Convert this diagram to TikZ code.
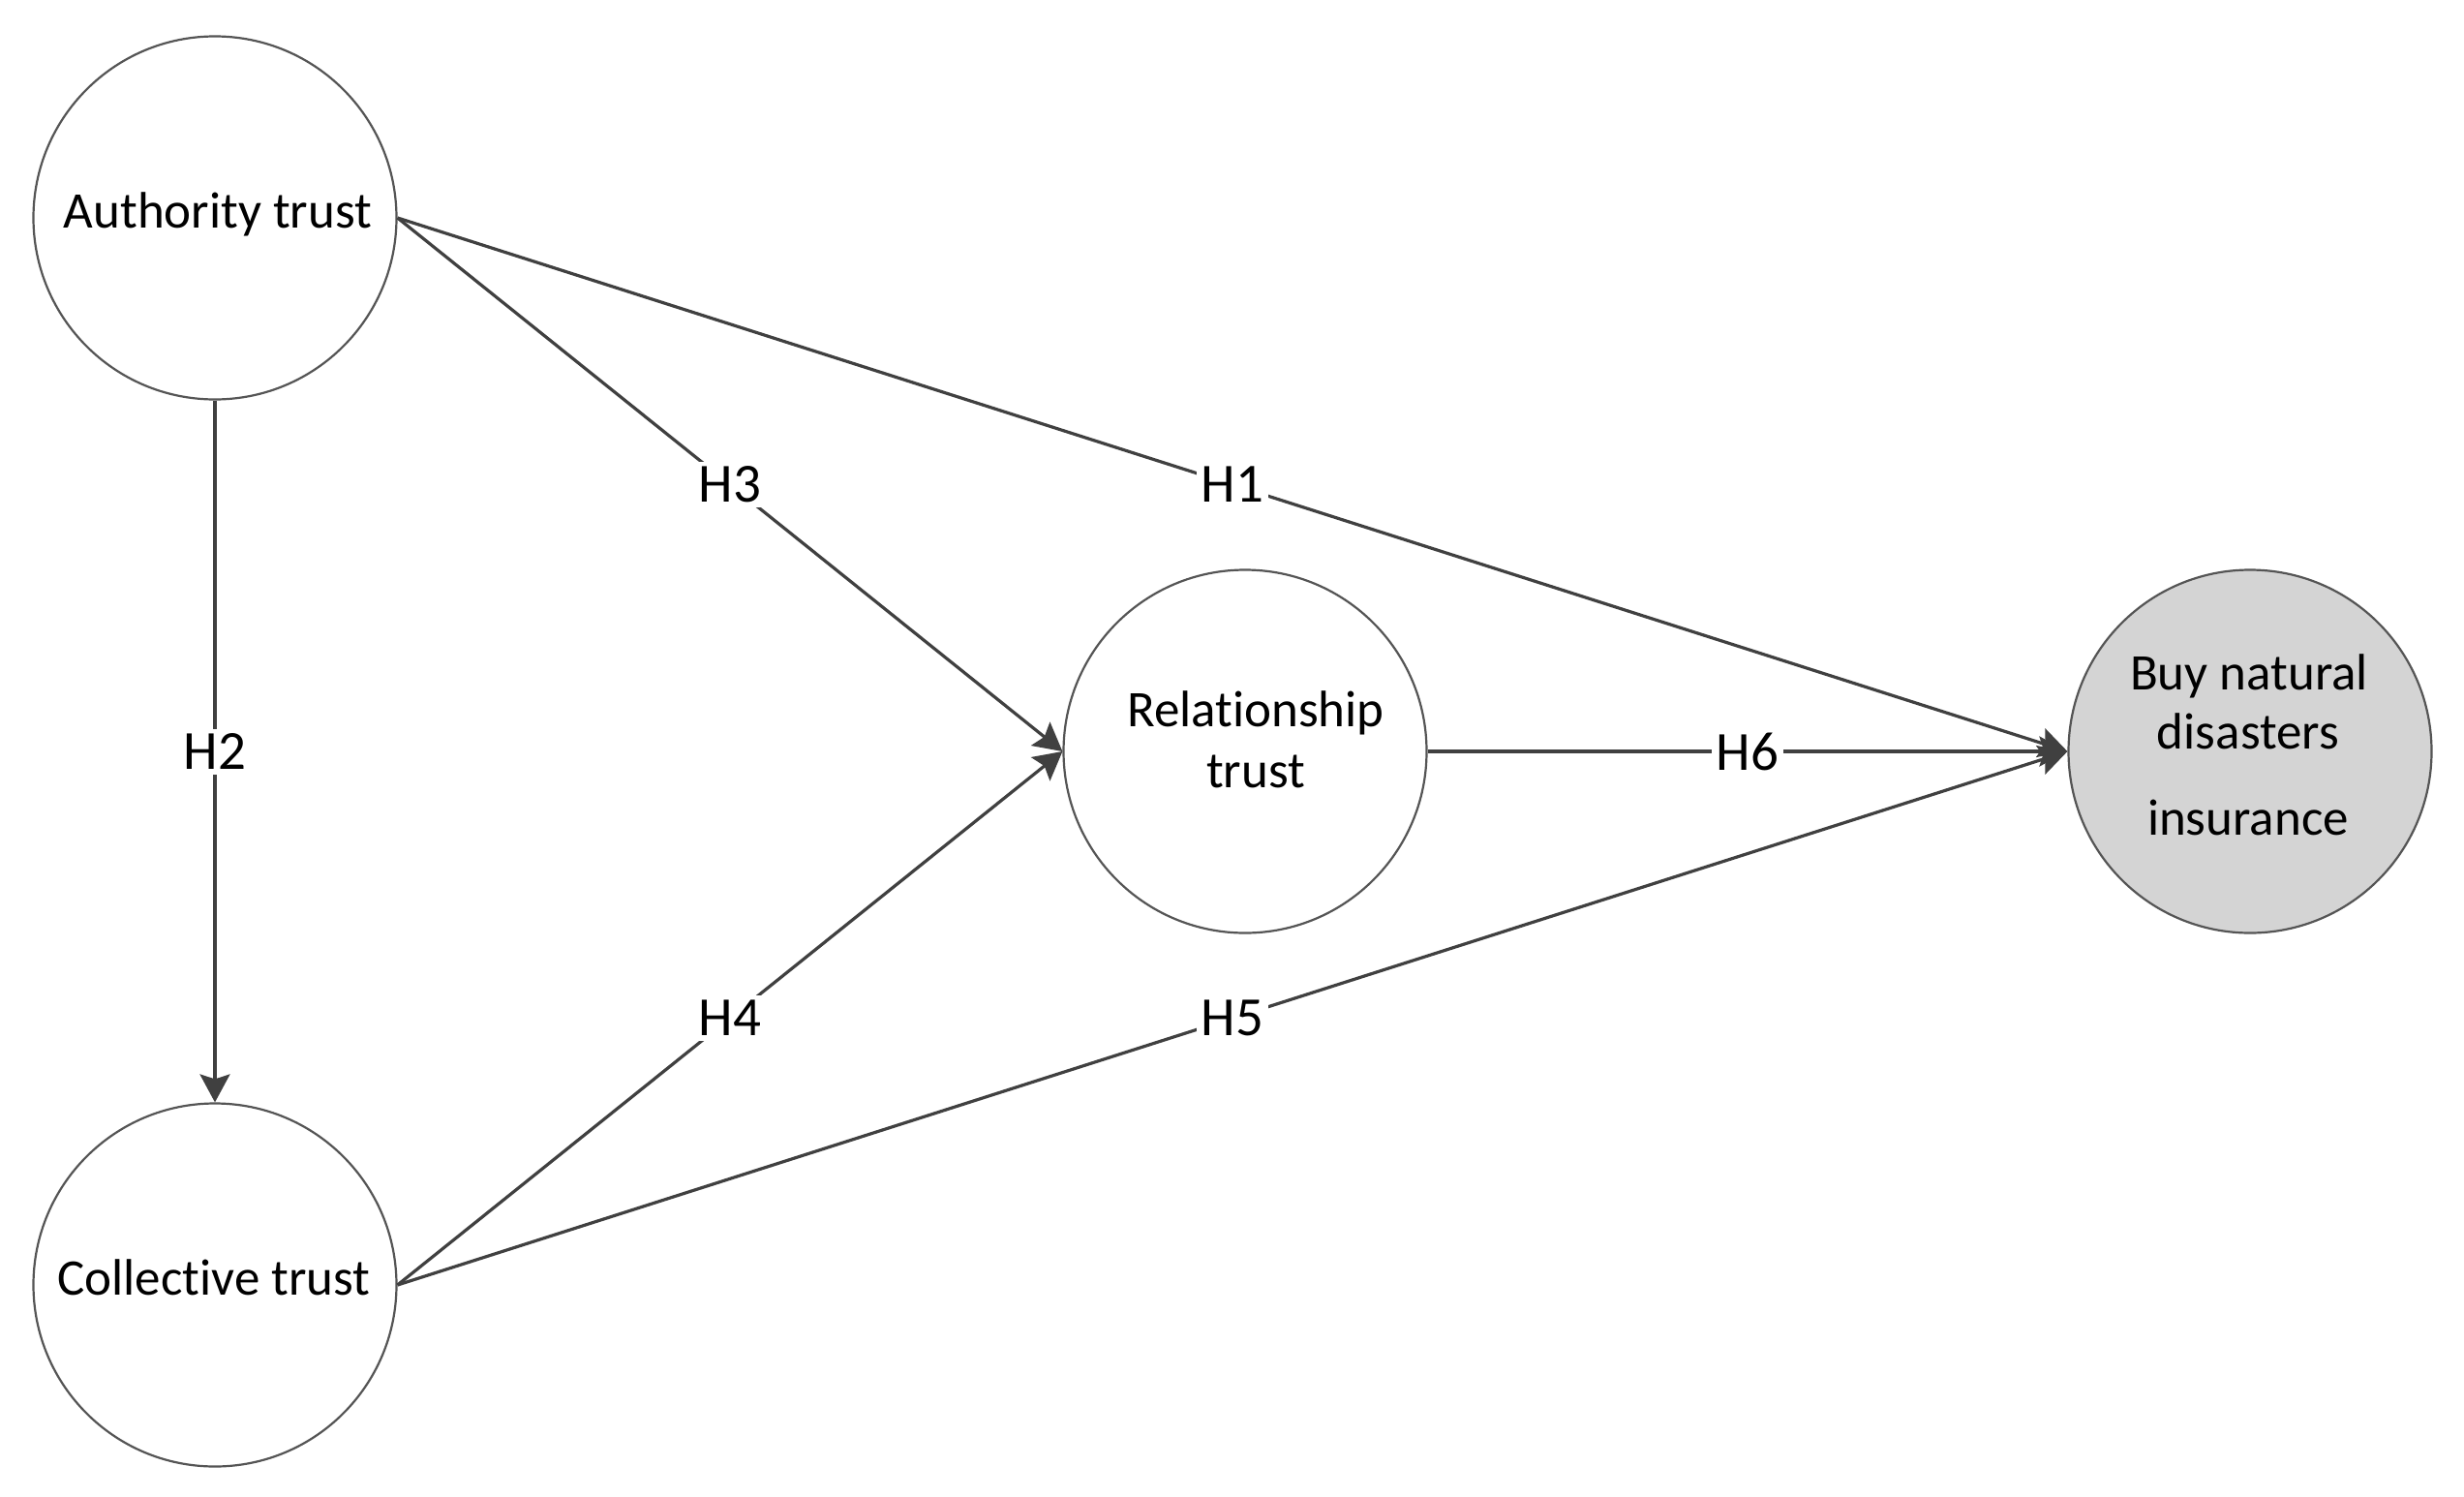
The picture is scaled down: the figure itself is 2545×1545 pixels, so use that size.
\documentclass[tikz,border=0pt]{standalone}
\usepackage{fontspec}
\setmainfont[Ligatures=NoCommon]{Carlito}
\usetikzlibrary{arrows.meta}
\definecolor{edgegray}{RGB}{64,64,64}
\definecolor{ringgray}{RGB}{85,85,85}
\definecolor{buyfill}{RGB}{212,212,212}
\begin{document}
\begin{tikzpicture}[x=1pt,y=-1pt,
  construct/.style={circle,draw=ringgray,line width=2.2pt,minimum size=375pt,inner sep=0pt,fill=white},
  body/.style={font=\fontsize{53}{61}\selectfont,text=black,inner sep=0pt,anchor=base},
  path/.style={draw=edgegray,line width=3.2pt,-{Stealth[length=29pt,width=31pt,inset=5pt]}},
  hyp/.style={fill=white,font=\fontsize{57}{66}\selectfont,text=black,inner sep=5pt}]
\useasboundingbox (0,0) rectangle (2545,1545);
\fill[white] (0,0) rectangle (2545,1545);
% constructs
\node[construct] (auth) at (222,225) {};
\node[construct] (coll) at (222,1327) {};
\node[construct] (rel) at (1286,776) {};
\node[construct,fill=buyfill] (buy) at (2324,776) {};
% texts
\node[body] (authT) at (225,235) {Authority trust};
\node[body] (collT) at (221,1337) {Collective trust};
\node[body] (relT1) at (1297,750) {Relationship};
\node[body] (relT2) at (1297,813) {trust};
\node[body] (buyT1) at (2323,712) {Buy natural};
\node[body] (buyT2) at (2322,773) {disasters};
\node[body] (buyT3) at (2322,862) {insurance};
% paths
\draw[path] (auth.east) -- node[hyp] (h1) {H1} (buy.west);
\draw[path] (auth.south) -- node[hyp] (h2) {H2} (coll.north);
\draw[path] (auth.east) -- node[hyp] (h3) {H3} (rel.west);
\draw[path] (coll.east) -- node[hyp] (h4) {H4} (rel.west);
\draw[path] (coll.east) -- node[hyp] (h5) {H5} (buy.west);
\draw[path] (rel.east) -- node[hyp] (h6) {H6} (buy.west);
\end{tikzpicture}
\end{document}
